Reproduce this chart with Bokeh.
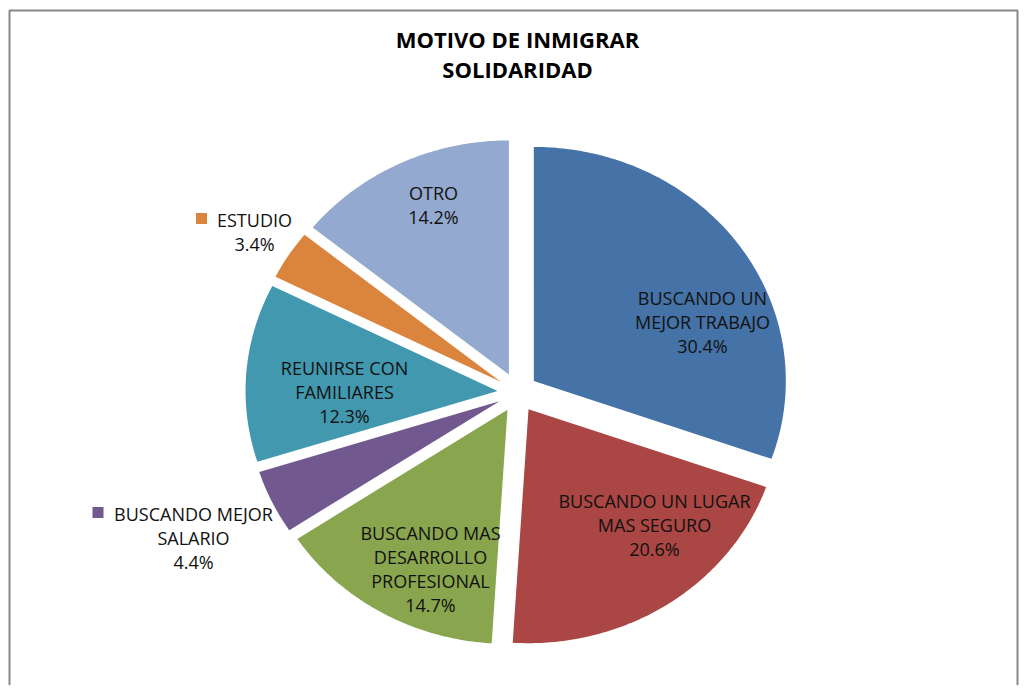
import math
from bokeh.plotting import figure
from bokeh.models import Range1d, ColumnDataSource
from bokeh.core.properties import value
from bokeh.embed import file_html
from bokeh.resources import INLINE

# ---- data ----
categories = [
    "BUSCANDO UN MEJOR TRABAJO",
    "BUSCANDO UN LUGAR MAS SEGURO",
    "BUSCANDO MAS DESARROLLO PROFESIONAL",
    "BUSCANDO MEJOR SALARIO",
    "REUNIRSE CON FAMILIARES",
    "ESTUDIO",
    "OTRO",
]
values = [30.4, 20.6, 14.7, 4.4, 12.3, 3.4, 14.2]
label_lines = [
    ["BUSCANDO UN", "MEJOR TRABAJO"],
    ["BUSCANDO UN LUGAR", "MAS SEGURO"],
    ["BUSCANDO MAS", "DESARROLLO", "PROFESIONAL"],
    ["BUSCANDO MEJOR", "SALARIO"],
    ["REUNIRSE CON", "FAMILIARES"],
    ["ESTUDIO"],
    ["OTRO"],
]
title_lines = ["MOTIVO DE INMIGRAR", "SOLIDARIDAD"]

# ---- style / layout ----
colors = ["#4572A7", "#AA4643", "#89A54E", "#71588F", "#4198AF", "#DB843D", "#93A9CF"]
W, H = 1019, 685
CX, CY = 517, 392          # pie center (image px)
RX, RY = 252, 234          # radii
EXPLODE = 20
# label anchors: (x center, y of first line), outside key (x, y) or None
label_pos = [
    (702, 297, None),
    (654, 500, None),
    (430, 532, None),
    (193, 513, (97.5, 512)),
    (344, 367, None),
    (254, 219, (201, 218)),
    (433, 192, None),
]
LINE_STEP = 24
FONT = "Open Sans"

p = figure(width=W, height=H, x_range=Range1d(0, W), y_range=Range1d(H, 0),
           output_backend="svg", toolbar_location=None,
           x_axis_type=None, y_axis_type=None,
           min_border=0, min_border_left=0, min_border_right=0,
           min_border_top=0, min_border_bottom=0)
p.outline_line_color = None
p.xgrid.visible = False
p.ygrid.visible = False
p.background_fill_color = "white"
p.border_fill_color = "white"

# chart border (bottom edge outside the view)
p.multi_line(xs=[[9, 9, W - 2, W - 2]], ys=[[720, 10, 10, 720]],
             line_color="#878787", line_width=2)

# pie slices
total = sum(values)
xs, ys = [], []
cum = 0.0
for v in values:
    a0 = cum / total * 2 * math.pi
    cum += v
    a1 = cum / total * 2 * math.pi
    mid = (a0 + a1) / 2
    vx = CX + EXPLODE * math.sin(mid)
    vy = CY - EXPLODE * math.cos(mid)
    n = max(8, int((a1 - a0) * 80))
    px, py = [vx], [vy]
    for i in range(n + 1):
        t = a0 + (a1 - a0) * i / n
        px.append(vx + RX * math.sin(t))
        py.append(vy - RY * math.cos(t))
    xs.append(px)
    ys.append(py)

src = ColumnDataSource(dict(xs=xs, ys=ys, color=colors, cat=categories, val=values))
p.patches("xs", "ys", source=src, fill_color="color", line_color=None)

# labels
tx, ty, tt = [], [], []
kx, ky, kc = [], [], []
for i, (lines, v) in enumerate(zip(label_lines, values)):
    x0, y0, key = label_pos[i]
    all_lines = lines + ["%.1f%%" % v]
    for j, ln in enumerate(all_lines):
        tx.append(x0)
        ty.append(y0 + j * LINE_STEP)
        tt.append(ln)
    if key is not None:
        kx.append(key[0]); ky.append(key[1]); kc.append(colors[i])

p.text(x=tx, y=ty, text=tt, text_font=value(FONT), text_font_size="18px",
       text_color="#111111", text_align="center", text_baseline="middle")
p.rect(x=kx, y=ky, width=11, height=11, fill_color=kc, line_color=None)

# title
p.text(x=[517, 517], y=[38, 68], text=title_lines, text_font=value(FONT),
       text_font_size="22px", text_font_style="bold", text_color="#000000",
       text_align="center", text_baseline="middle")

open("out.html", "w").write(file_html(p, INLINE))
